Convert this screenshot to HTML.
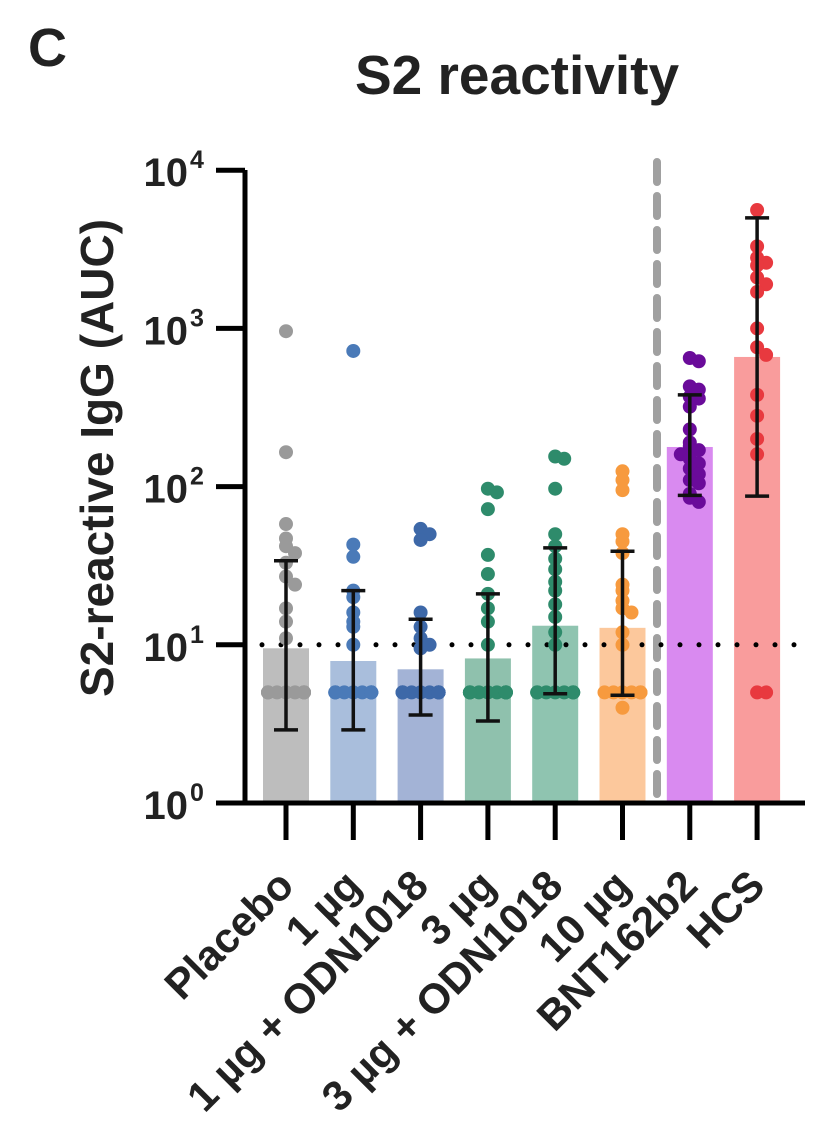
<!DOCTYPE html>
<html><head><meta charset="utf-8"><style>
body{margin:0;background:#fff}
svg text{font-family:"Liberation Sans",Arial,sans-serif;font-weight:bold;fill:#222}
</style></head><body>
<svg id="chart" width="830" height="1142" xmlns="http://www.w3.org/2000/svg">
<text x="28" y="66" font-size="54">C</text>
<text x="517" y="94" font-size="55" text-anchor="middle">S2 reactivity</text>
<text transform="translate(113,458) rotate(-90)" font-size="46" text-anchor="middle">S2-reactive IgG (AUC)</text>
<g id="plot"></g>
</svg>
<script>
const categories=["Placebo","1 µg","1 µg + ODN1018","3 µg","3 µg + ODN1018","10 µg","BNT162b2","HCS"];
const barMeans=[9.5,7.9,7.0,8.2,13.2,12.8,178,660];
const errHigh=[34,22,14.5,21,41,39,380,5000];
const errLow=[2.9,2.9,3.6,3.3,4.9,4.8,88,87];
const ptsPlacebo=[960,165,58,47,42,38,33,27,24,17,14,11,5,5,5,5,5,5,5,5,5,5];
const pts1=[720,43,36,22,20,16,14,13,10,5,5,5,5,5,5,5,5,5,5];
const pts1O=[54,50,46,16,13,11,10,9.5,5,5,5,5,5,5,5,5,5,5];
const pts3=[97,92,72,37,28,21,17,14,10,5,5,5,5,5,5,5,5,5,5];
const pts3O=[155,150,97,50,42,35,30,25,22,18,15,12,10,5,5,5,5,5,5,5,5];
const pts10=[125,110,95,50,45,38,24,22,19,17,16,12,10,5,5,5,5,5,5,4];
const ptsBNT=[650,620,430,410,370,360,320,230,190,180,170,160,150,140,130,120,110,105,90,85,80];
const ptsHCS=[5600,3300,2800,2600,2500,2100,1900,1700,1000,760,680,380,280,200,160,5,5];
const yTicks=[0,1,2,3,4];
const threshold=10;
const allPts=[ptsPlacebo,pts1,pts1O,pts3,pts3O,pts10,ptsBNT,ptsHCS];
const barCol=["#bdbdbd","#a9bedc","#a3b3d6","#8fc1ad","#8fc4b0","#fcc89c","#d98af0","#f99c9c"];
const dotCol=["#9a9a9a","#4a7ab8","#3d68a8","#2e8b6b","#2e8b6b","#f79a3e","#6a0b9a","#e8393f"];
const NS="http://www.w3.org/2000/svg";
const g=document.getElementById("plot");
const X0=245,X1=805,Y0=803,DEC=158.2;
const xPos=i=>286+i*67.3;
const yPos=v=>Y0-Math.log10(v)*DEC;
function mk(t,a,parent){const e=document.createElementNS(NS,t);for(const k in a)e.setAttribute(k,a[k]);(parent||g).appendChild(e);return e;}
categories.forEach((c,i)=>{
 const e=mk("rect",{x:xPos(i)-23,y:yPos(barMeans[i]),width:46,height:Y0-yPos(barMeans[i]),fill:barCol[i]});
 
 
});
const sep=mk("line",{x1:657,y1:162,x2:657,y2:803,stroke:"#a0a0a0","stroke-width":8,"stroke-dasharray":"20 14","stroke-linecap":"round"});


const th=mk("line",{x1:262,y1:yPos(threshold),x2:800,y2:yPos(threshold),stroke:"#000","stroke-width":5,"stroke-dasharray":"0 19","stroke-linecap":"round"});


allPts.forEach((arr,i)=>{
 const cnt={};
 arr.forEach((v,j)=>{
  const key=Math.round(yPos(v)/10);cnt[key]=(cnt[key]||0)+1;const n=cnt[key]-1;
  const off=n===0?0:(n%2?1:-1)*Math.ceil(n/2)*9;
  const d=mk("circle",{cx:xPos(i)+Math.max(-18,Math.min(18,off)),cy:yPos(v),r:7,fill:dotCol[i]});
  
  
 });
});
categories.forEach((c,i)=>{
 const x=xPos(i),a=yPos(errHigh[i]),b=yPos(errLow[i]);
 const eg=mk("g",{stroke:"#111","stroke-width":3.5});
 
 
 mk("line",{x1:x,y1:a,x2:x,y2:b},eg);
 mk("line",{x1:x-12,y1:a,x2:x+12,y2:a},eg);
 mk("line",{x1:x-12,y1:b,x2:x+12,y2:b},eg);
});
const ax=mk("path",{d:`M${X0},${170}V${Y0}H${X1}`,stroke:"#000","stroke-width":5,fill:"none"});


yTicks.forEach(t=>{
 const y=Y0-t*DEC;
 mk("line",{x1:216,y1:y,x2:X0,y2:y,stroke:"#000","stroke-width":5});
 const tx=mk("text",{x:188,y:y+16,"font-size":40,"text-anchor":"end"});
 tx.textContent="10";
 const s=mk("text",{x:190,y:y-2,"font-size":25});
 s.textContent=String(t);
 
 
});
categories.forEach((c,i)=>{
 const x=xPos(i);
 mk("line",{x1:x,y1:Y0,x2:x,y2:840,stroke:"#000","stroke-width":5});
 const t=mk("text",{transform:`translate(${x+10},${888}) rotate(-45)`,"font-size":42,"text-anchor":"end"});
 t.textContent=c;
 
 
});
</script>
</body></html>
